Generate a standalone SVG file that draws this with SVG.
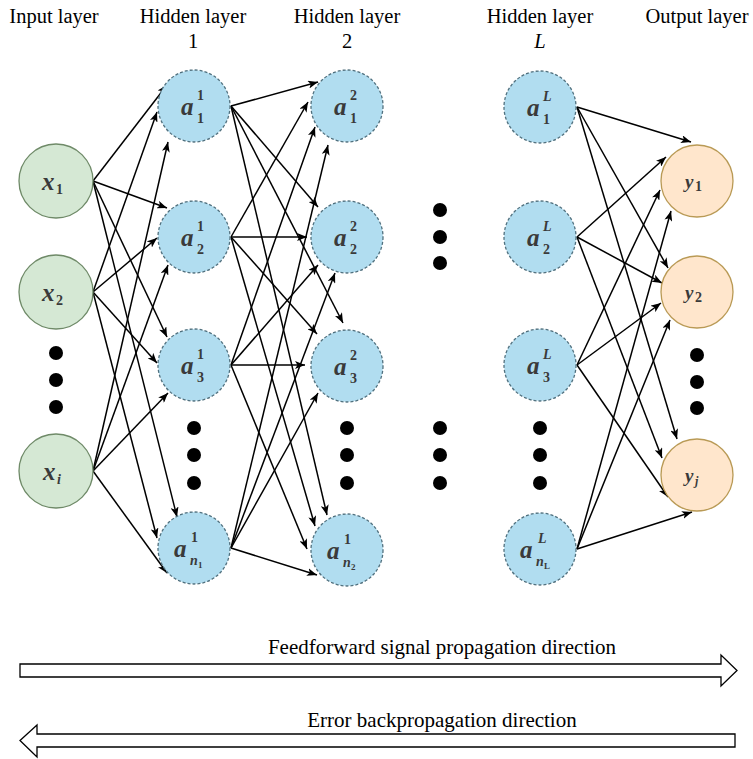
<svg xmlns="http://www.w3.org/2000/svg" width="753" height="759" viewBox="0 0 753 759">
  <defs>
    <marker id="arrow" viewBox="0 0 10 8" markerWidth="10" markerHeight="8" refX="10" refY="4" orient="auto" markerUnits="userSpaceOnUse">
      <path d="M0,0 L10,4 L0,8 L2.5,4 z" fill="#000"/>
    </marker>
  </defs>
  <style>
    .title { font-family: "Liberation Serif", "Times New Roman", serif; font-size: 20.5px; fill: #000; text-anchor: middle; }
    .dir { font-family: "Liberation Serif", "Times New Roman", serif; font-size: 21px; fill: #000; text-anchor: middle; }
    .in { fill: #d5e8d4; stroke: #6f8a68; stroke-width: 1.3; }
    .hid { fill: #b1ddf0; stroke: #50707e; stroke-width: 1.3; stroke-dasharray: 3 2; }
    .out { fill: #ffe6cc; stroke: #b99a55; stroke-width: 1.3; }
    .lbl { font-family: "Liberation Serif", "DejaVu Serif", serif; font-style: italic; font-weight: bold; fill: #3a3a3a; }
    .m { font-size: 25px; }
    .s { font-size: 14px; font-style: normal; }
    .si { font-size: 14px; }
    .ss { font-size: 9px; font-style: normal; }
    .dot { fill: #000; }
    .e { stroke: #000; stroke-width: 1.5; fill: none; marker-end: url(#arrow); }
    .big { fill: #fff; stroke: #000; stroke-width: 1.3; }
  </style>

  <!-- layer headings -->
  <g id="headings">
    <text class="title" x="54" y="23">Input layer</text>
    <text class="title" x="193" y="23">Hidden layer</text>
    <text class="title" x="193" y="48">1</text>
    <text class="title" x="347" y="23">Hidden layer</text>
    <text class="title" x="347" y="48">2</text>
    <text class="title" x="540" y="23">Hidden layer</text>
    <text class="title" x="540" y="48" font-style="italic">L</text>
    <text class="title" x="697" y="23">Output layer</text>
  </g>

  <!-- connectors -->
  <g id="connectors">
    <!-- input -> hidden 1 -->
    <line class="e" x1="93" y1="181" x2="167" y2="85"/>
    <line class="e" x1="93" y1="292" x2="157" y2="112"/>
    <line class="e" x1="93" y1="471" x2="168" y2="142"/>
    <line class="e" x1="93" y1="181" x2="167" y2="208"/>
    <line class="e" x1="93" y1="292" x2="157" y2="238"/>
    <line class="e" x1="93" y1="471" x2="168" y2="265"/>
    <line class="e" x1="93" y1="181" x2="167" y2="337"/>
    <line class="e" x1="93" y1="292" x2="157" y2="363"/>
    <line class="e" x1="93" y1="471" x2="168" y2="393"/>
    <line class="e" x1="93" y1="181" x2="177" y2="517"/>
    <line class="e" x1="93" y1="292" x2="157" y2="538"/>
    <line class="e" x1="93" y1="471" x2="167" y2="573"/>
    <!-- hidden 1 -> hidden 2 -->
    <line class="e" x1="231" y1="106" x2="318" y2="82"/>
    <line class="e" x1="231" y1="237" x2="308" y2="102"/>
    <line class="e" x1="231" y1="365" x2="315" y2="127"/>
    <line class="e" x1="231" y1="548" x2="328" y2="145"/>
    <line class="e" x1="231" y1="106" x2="318" y2="207"/>
    <line class="e" x1="231" y1="237" x2="307" y2="237"/>
    <line class="e" x1="231" y1="365" x2="318" y2="265"/>
    <line class="e" x1="231" y1="548" x2="335" y2="273"/>
    <line class="e" x1="231" y1="106" x2="343" y2="323"/>
    <line class="e" x1="231" y1="237" x2="317" y2="334"/>
    <line class="e" x1="231" y1="365" x2="305" y2="365"/>
    <line class="e" x1="231" y1="548" x2="318" y2="393"/>
    <line class="e" x1="231" y1="106" x2="327" y2="515"/>
    <line class="e" x1="231" y1="237" x2="315" y2="526"/>
    <line class="e" x1="231" y1="365" x2="307" y2="549"/>
    <line class="e" x1="231" y1="548" x2="317" y2="575"/>
    <!-- hidden L -> output -->
    <line class="e" x1="577" y1="107" x2="691" y2="142"/>
    <line class="e" x1="577" y1="237" x2="666" y2="157"/>
    <line class="e" x1="577" y1="365" x2="660" y2="190"/>
    <line class="e" x1="577" y1="549" x2="671" y2="211"/>
    <line class="e" x1="577" y1="107" x2="668" y2="268"/>
    <line class="e" x1="577" y1="237" x2="662" y2="283"/>
    <line class="e" x1="577" y1="365" x2="661" y2="303"/>
    <line class="e" x1="577" y1="549" x2="670" y2="320"/>
    <line class="e" x1="577" y1="107" x2="677" y2="439"/>
    <line class="e" x1="577" y1="237" x2="662" y2="458"/>
    <line class="e" x1="577" y1="365" x2="668" y2="497"/>
    <line class="e" x1="577" y1="549" x2="692" y2="512"/>
  </g>

  <!-- input layer -->
  <g id="x1"><circle class="in" cx="56" cy="181" r="37"/><text class="lbl" y="190"><tspan class="m" x="42">x</tspan><tspan class="s" x="56" y="194">1</tspan></text></g>
  <g id="x2"><circle class="in" cx="56" cy="292" r="37"/><text class="lbl" y="301"><tspan class="m" x="42">x</tspan><tspan class="s" x="56" y="305">2</tspan></text></g>
  <g id="xi"><circle class="in" cx="56" cy="471" r="37"/><text class="lbl" y="480"><tspan class="m" x="43">x</tspan><tspan class="si" x="57" y="484">i</tspan></text></g>
  <g id="dots-in"><circle class="dot" cx="56" cy="353" r="7"/><circle class="dot" cx="56" cy="380" r="7"/><circle class="dot" cx="56" cy="407" r="7"/></g>

  <!-- hidden layer 1 -->
  <g id="h1-1"><circle class="hid" cx="194" cy="106" r="36"/><text class="lbl"><tspan class="m" x="181" y="115">a</tspan><tspan class="s" x="197" y="100">1</tspan><tspan class="s" x="197" y="123">1</tspan></text></g>
  <g id="h1-2"><circle class="hid" cx="194" cy="237" r="36"/><text class="lbl"><tspan class="m" x="181" y="246">a</tspan><tspan class="s" x="197" y="231">1</tspan><tspan class="s" x="197" y="254">2</tspan></text></g>
  <g id="h1-3"><circle class="hid" cx="194" cy="365" r="36"/><text class="lbl"><tspan class="m" x="181" y="374">a</tspan><tspan class="s" x="197" y="359">1</tspan><tspan class="s" x="197" y="382">3</tspan></text></g>
  <g id="h1-n"><circle class="hid" cx="194" cy="548" r="36"/><text class="lbl"><tspan class="m" x="174" y="557">a</tspan><tspan class="s" x="191" y="542">1</tspan><tspan class="si" x="190" y="565">n</tspan><tspan class="ss" x="198" y="568">1</tspan></text></g>
  <g id="dots-h1"><circle class="dot" cx="194" cy="428" r="7"/><circle class="dot" cx="194" cy="455" r="7"/><circle class="dot" cx="194" cy="483" r="7"/></g>

  <!-- hidden layer 2 -->
  <g id="h2-1"><circle class="hid" cx="347" cy="106" r="36"/><text class="lbl"><tspan class="m" x="334" y="115">a</tspan><tspan class="s" x="350" y="100">2</tspan><tspan class="s" x="350" y="123">1</tspan></text></g>
  <g id="h2-2"><circle class="hid" cx="347" cy="237" r="36"/><text class="lbl"><tspan class="m" x="334" y="246">a</tspan><tspan class="s" x="350" y="231">2</tspan><tspan class="s" x="350" y="254">2</tspan></text></g>
  <g id="h2-3"><circle class="hid" cx="347" cy="366" r="36"/><text class="lbl"><tspan class="m" x="334" y="375">a</tspan><tspan class="s" x="350" y="360">2</tspan><tspan class="s" x="350" y="383">3</tspan></text></g>
  <g id="h2-n"><circle class="hid" cx="347" cy="550" r="36"/><text class="lbl"><tspan class="m" x="327" y="559">a</tspan><tspan class="s" x="344" y="544">1</tspan><tspan class="si" x="343" y="567">n</tspan><tspan class="ss" x="351" y="570">2</tspan></text></g>
  <g id="dots-h2"><circle class="dot" cx="347" cy="428" r="7"/><circle class="dot" cx="347" cy="455" r="7"/><circle class="dot" cx="347" cy="483" r="7"/></g>

  <!-- elided hidden layers -->
  <g id="dots-mid"><circle class="dot" cx="440" cy="210" r="7"/><circle class="dot" cx="440" cy="237" r="7"/><circle class="dot" cx="440" cy="263" r="7"/><circle class="dot" cx="440" cy="428" r="7"/><circle class="dot" cx="440" cy="455" r="7"/><circle class="dot" cx="440" cy="483" r="7"/></g>

  <!-- hidden layer L -->
  <g id="hL-1"><circle class="hid" cx="540" cy="107" r="36"/><text class="lbl"><tspan class="m" x="527" y="116">a</tspan><tspan class="si" x="543" y="101">L</tspan><tspan class="s" x="543" y="124">1</tspan></text></g>
  <g id="hL-2"><circle class="hid" cx="540" cy="237" r="36"/><text class="lbl"><tspan class="m" x="527" y="246">a</tspan><tspan class="si" x="543" y="231">L</tspan><tspan class="s" x="543" y="254">2</tspan></text></g>
  <g id="hL-3"><circle class="hid" cx="540" cy="365" r="36"/><text class="lbl"><tspan class="m" x="527" y="374">a</tspan><tspan class="si" x="543" y="359">L</tspan><tspan class="s" x="543" y="382">3</tspan></text></g>
  <g id="hL-n"><circle class="hid" cx="540" cy="549" r="36"/><text class="lbl"><tspan class="m" x="520" y="558">a</tspan><tspan class="si" x="538" y="543">L</tspan><tspan class="si" x="536" y="566">n</tspan><tspan class="ss" x="544" y="569" font-style="italic">L</tspan></text></g>
  <g id="dots-hL"><circle class="dot" cx="540" cy="428" r="7"/><circle class="dot" cx="540" cy="455" r="7"/><circle class="dot" cx="540" cy="483" r="7"/></g>

  <!-- output layer -->
  <g id="y1"><circle class="out" cx="697" cy="181" r="36"/><text class="lbl"><tspan x="685" y="188" font-size="19">y</tspan><tspan class="s" x="695" y="191" font-size="12">1</tspan></text></g>
  <g id="y2"><circle class="out" cx="697" cy="292" r="36"/><text class="lbl"><tspan x="685" y="299" font-size="19">y</tspan><tspan class="s" x="695" y="302" font-size="12">2</tspan></text></g>
  <g id="yj"><circle class="out" cx="697" cy="475" r="36"/><text class="lbl"><tspan x="685" y="482" font-size="19">y</tspan><tspan x="695" y="485" font-size="12">j</tspan></text></g>
  <g id="dots-out"><circle class="dot" cx="697" cy="355" r="7"/><circle class="dot" cx="697" cy="382" r="7"/><circle class="dot" cx="697" cy="408" r="7"/></g>

  <!-- direction arrows -->
  <g id="feedforward">
    <text class="dir" x="442" y="654">Feedforward signal propagation direction</text>
    <path class="big" d="M20,664 H721 V655 L737,670.5 L721,686 V677 H20 Z"/>
  </g>
  <g id="backprop">
    <text class="dir" x="442" y="727">Error backpropagation direction</text>
    <path class="big" d="M735,734 H37 V725 L20,740.5 L37,757 V747 H735 Z"/>
  </g>
</svg>
